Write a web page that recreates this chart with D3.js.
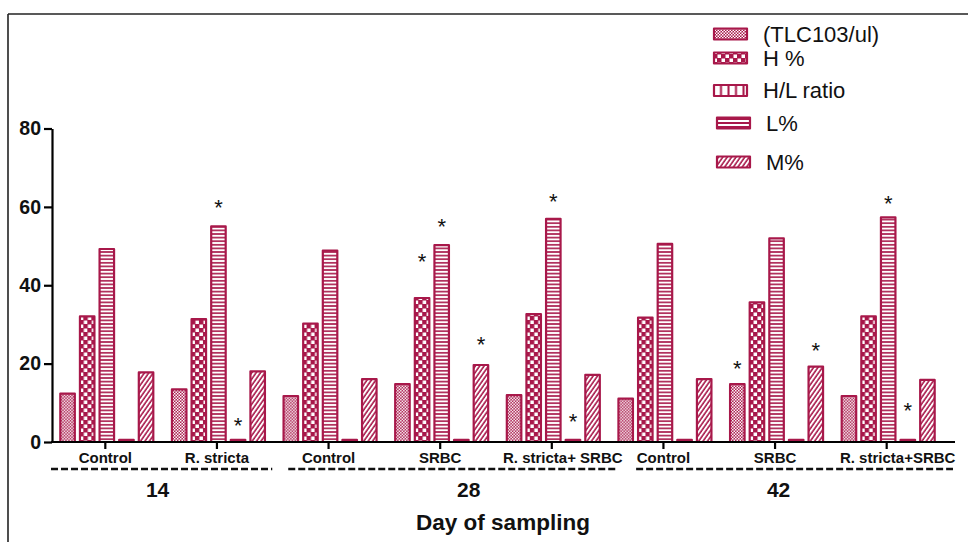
<!DOCTYPE html>
<html>
<head>
<meta charset="utf-8">
<script src="https://cdn.jsdelivr.net/npm/d3@7"></script>
<style>
  html, body { margin: 0; padding: 0; background: #fff; }
  svg { display: block; }
  text { font-family: "Liberation Sans", Arial, sans-serif; }
</style>
</head>
<body>
<svg id="chart" width="968" height="542"></svg>
<script>
// ---------- DATA ----------
const groups = ["Control", "R. stricta", "Control", "SRBC", "R. stricta+ SRBC", "Control", "SRBC", "R. stricta+SRBC"];
const seriesNames = ["(TLC103/ul)", "H %", "H/L ratio", "L%", "M%"];
const tlc     = [12.6, 13.7, 12.0, 15.0, 12.2, 11.3, 15.0, 12.0];
const hPct    = [32.3, 31.6, 30.5, 37.0, 32.9, 32.0, 35.9, 32.3];
const hlRatio = [49.5, 55.3, 49.1, 50.5, 57.2, 50.8, 52.2, 57.6];
const lPct    = [0.8, 0.8, 0.8, 0.8, 0.8, 0.8, 0.8, 0.8];
const mPct    = [18.0, 18.3, 16.3, 19.9, 17.4, 16.3, 19.5, 16.1];
const days = ["14", "28", "42"];
const dayFirstGroup = [0, 2, 5];
const dayLastGroup  = [1, 4, 7];
const yTicks = [0, 20, 40, 60, 80];
// significance stars: [group index, series index, value at which star sits]
const stars = [[1,2,61.1],[1,3,5.4],[3,1,47.3],[3,2,56.2],[3,4,26.2],[4,2,62.7],[4,3,6.5],[6,0,20.1],[6,4,24.5],[7,2,62.1],[7,3,9.2]];
const xTitle = "Day of sampling";

// ---------- LAYOUT ----------
const C = "#A8184A";
const svg = d3.select("#chart");
const series = [tlc, hPct, hlRatio, lPct, mPct];

const y = d3.scaleLinear().domain([0, 80]).range([442, 128.5]);
const x0 = d3.scaleBand().domain(d3.range(groups.length)).range([51, 944]).paddingInner(0.149).paddingOuter(0.0745);
const x1 = d3.scaleBand().domain(d3.range(series.length)).range([0, x0.bandwidth()]).paddingInner(0.159);

// ---------- PATTERNS ----------
const defs = svg.append("defs");
function pat(id, w, h, build, transform) {
  const p = defs.append("pattern").attr("id", id).attr("patternUnits", "userSpaceOnUse")
    .attr("width", w).attr("height", h);
  if (transform) p.attr("patternTransform", transform);
  p.append("rect").attr("width", w).attr("height", h).attr("fill", C);
  build(p);
}
pat("pFine", 3, 3, p => {
  p.append("rect").attr("x", 0).attr("y", 0).attr("width", 1.5).attr("height", 1.5).attr("fill", "#fff");
  p.append("rect").attr("x", 1.5).attr("y", 1.5).attr("width", 1.5).attr("height", 1.5).attr("fill", "#fff");
});
pat("pCheck", 8, 8, p => {
  p.append("rect").attr("x", 0.5).attr("y", 0.5).attr("width", 3.5).attr("height", 3.5).attr("fill", "#fff");
  p.append("rect").attr("x", 4.5).attr("y", 4.5).attr("width", 3.5).attr("height", 3.5).attr("fill", "#fff");
});
pat("pHoriz", 6, 3.6, p => {
  p.append("rect").attr("x", 0).attr("y", 0.8).attr("width", 6).attr("height", 2).attr("fill", "#fff");
});
pat("pVert", 7.5, 6, p => {
  p.append("rect").attr("x", 1.5).attr("y", 0).attr("width", 5.5).attr("height", 6).attr("fill", "#fff");
});
pat("pLines", 6, 4, p => {
  p.append("rect").attr("x", 0).attr("y", 1).attr("width", 6).attr("height", 2).attr("fill", "#fff");
});
pat("pDiag", 3.6, 3.6, p => {
  p.append("rect").attr("x", 0).attr("y", 0).attr("width", 2).attr("height", 3.6).attr("fill", "#fff");
}, "rotate(35)");

const barFill = ["url(#pFine)", "url(#pCheck)", "url(#pHoriz)", C, "url(#pDiag)"];
const legendFill = ["url(#pFine)", "url(#pCheck)", "url(#pVert)", "url(#pLines)", "url(#pDiag)"];

// ---------- FRAME ----------
svg.append("line").attr("x1", 8).attr("x2", 968).attr("y1", 14).attr("y2", 14).attr("stroke", "#222").attr("stroke-width", 1.6);
svg.append("line").attr("x1", 8).attr("x2", 8).attr("y1", 14).attr("y2", 542).attr("stroke", "#222").attr("stroke-width", 1.6);

// ---------- BARS ----------
const gGroups = svg.append("g").selectAll("g").data(groups).join("g")
  .attr("transform", (d, i) => `translate(${x0(i)},0)`);
gGroups.selectAll("rect").data((d, i) => series.map((s, k) => ({ k, v: s[i] }))).join("rect")
  .attr("x", d => x1(d.k) + 1)
  .attr("y", d => y(d.v) + 1)
  .attr("width", x1.bandwidth() - 2)
  .attr("height", d => Math.max(0.5, y(0) - y(d.v) - 1))
  .attr("fill", d => barFill[d.k])
  .attr("stroke", C).attr("stroke-width", 2.2).attr("stroke-linejoin", "round");

// ---------- STARS ----------
svg.append("g").selectAll("text").data(stars).join("text")
  .attr("x", d => x0(d[0]) + x1(d[1]) + x1.bandwidth() / 2)
  .attr("y", d => y(d[2]) + 12.5)
  .attr("text-anchor", "middle")
  .attr("font-size", 22).attr("fill", "#111")
  .text("*");

// ---------- AXES ----------
const yAxis = svg.append("g").attr("transform", "translate(52,0)")
  .call(d3.axisLeft(y).tickValues(yTicks).tickSize(8).tickSizeOuter(0).tickPadding(3));
yAxis.select(".domain").attr("stroke", "#000").attr("stroke-width", 2.2);
yAxis.selectAll(".tick line").attr("stroke", "#000").attr("stroke-width", 2.2);
yAxis.selectAll(".tick text").attr("font-size", 19.5).attr("font-weight", "bold").attr("fill", "#111")
  .attr("font-family", "'Liberation Sans', Arial, sans-serif");

svg.append("line").attr("x1", 51).attr("x2", 955).attr("y1", y(0)).attr("y2", y(0))
  .attr("stroke", "#000").attr("stroke-width", 2.2);
const xAxis = svg.append("g").attr("transform", `translate(0,${y(0)})`)
  .call(d3.axisBottom(x0).tickSize(7).tickFormat(""));
xAxis.select(".domain").remove();
xAxis.selectAll(".tick line").attr("stroke", "#000").attr("stroke-width", 2.2)
  .attr("transform", "translate(-1.5,0)");

// group labels
const labelShift = groups.map(g => g.length > 12 ? 11 : 0);
svg.append("g").selectAll("text").data(groups).join("text")
  .attr("x", (d, i) => x0(i) + x0.bandwidth() / 2 - 1.5 + labelShift[i])
  .attr("y", 462.5)
  .attr("text-anchor", "middle")
  .attr("font-size", 15).attr("font-weight", "bold").attr("fill", "#111")
  .text(d => d);

// day dashed lines and labels
const step = x0.step();
const gStart = i => 51 + step * i;
const dashInset = [0, 14, 27];
const dashEndInset = [2, -7, -9];
days.forEach((d, j) => {
  const xs = gStart(dayFirstGroup[j]) + dashInset[j];
  const xe = gStart(dayLastGroup[j] + 1) - dashEndInset[j];
  svg.append("line").attr("x1", xs).attr("x2", xe).attr("y1", 469).attr("y2", 469)
    .attr("stroke", "#111").attr("stroke-width", 2.6).attr("stroke-dasharray", "7,3");
});
const dayLabelX = days.map((d, j) => {
  const mid = (gStart(dayFirstGroup[j]) + gStart(dayLastGroup[j] + 1)) / 2;
  return mid + [-5, 27, 2][j];
});
svg.append("g").selectAll("text").data(days).join("text")
  .attr("x", (d, j) => dayLabelX[j]).attr("y", 497)
  .attr("text-anchor", "middle")
  .attr("font-size", 21).attr("font-weight", "bold").attr("fill", "#111")
  .text(d => d);

svg.append("text").attr("x", 503).attr("y", 530).attr("text-anchor", "middle")
  .attr("font-size", 22.5).attr("font-weight", "bold").attr("fill", "#111").text(xTitle);

// ---------- LEGEND ----------
const legY = [34, 58, 90.5, 123, 162];
const legX = [713, 713, 713, 716, 716];
const leg = svg.append("g").selectAll("g").data(seriesNames).join("g")
  .attr("transform", (d, i) => `translate(${legX[i]},${legY[i]})`);
leg.append("rect").attr("x", 1).attr("y", -5.5).attr("width", 33).attr("height", 11)
  .attr("fill", (d, i) => legendFill[i]).attr("stroke", C).attr("stroke-width", 2.2)
  .attr("stroke-linejoin", "round");
leg.append("text").attr("x", 50).attr("y", 7.5).attr("font-size", 22).attr("fill", "#111")
  .text(d => d);
</script>
</body>
</html>
